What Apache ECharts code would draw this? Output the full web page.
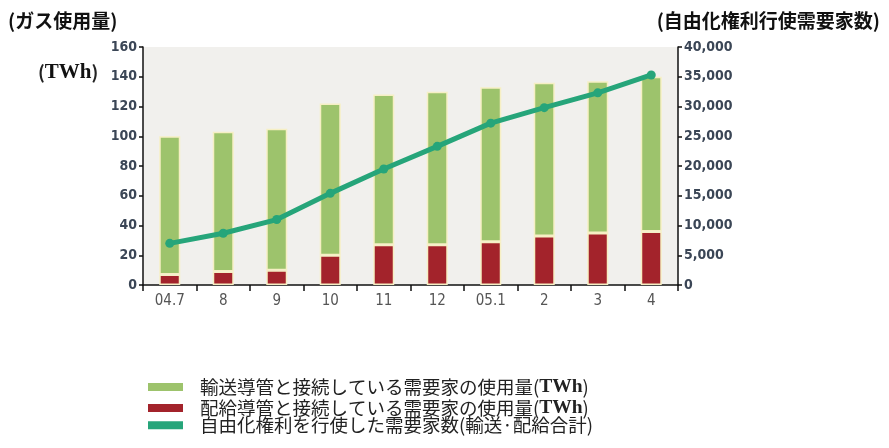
<!DOCTYPE html>
<html><head><meta charset="utf-8">
<script src="https://cdn.jsdelivr.net/npm/echarts@6/dist/echarts.min.js"></script>
<style>html,body{margin:0;padding:0;background:#fff}#c{width:889px;height:448px}</style>
</head><body><div id="c"></div>
<script>
const categories = ['04.7','8','9','10','11','12','05.1','2','3','4'];
const haikyuUsage = [7, 9, 10, 20, 27, 27, 29, 33, 35, 36];
const yusoUsage = [93, 94, 95, 102, 101, 103, 104, 103, 102, 104];
const customers = [7000, 8700, 11000, 15400, 19500, 23300, 27200, 29800, 32300, 35300];
const leftTicks = {min:0, max:160, interval:20};
const rightTicks = {min:0, max:40000, interval:5000};
const names = ['輸送導管と接続している需要家の使用量(TWh)','配給導管と接続している需要家の使用量(TWh)','自由化権利を行使した需要家数(輸送·配給合計)'];

const chart = echarts.init(document.getElementById('c'));
const jp = '"Noto Sans CJK JP","Noto Sans",sans-serif';
const narrow = '"Liberation Sans Narrow","DejaVu Sans Condensed","Liberation Sans",sans-serif';
const legendRich = {
  n:{fontFamily:jp, fontSize:18.5, color:'#222'},
  b:{fontFamily:'"Liberation Serif","DejaVu Serif",serif', fontWeight:'bold', fontSize:19.5, color:'#222'}
};
function legFmt(name){
  const i = name.indexOf('(TWh)');
  if(i>=0) return '{n|'+name.slice(0,i)+'(}{b|TWh}{n|)}';
  return '{n|'+name+'}';
}
function mkLegend(name, top){
  return {data:[name], left:143, top:top, itemWidth:35, itemHeight:8, itemGap:0,
    icon:'rect', itemStyle:{borderWidth:0}, formatter:legFmt,
    textStyle:{rich:legendRich, padding:[0,0,0,12]}, selectedMode:false};
}
chart.setOption({
  animation:false,
  backgroundColor:'#fff',
  title:[
    {text:'(ガス使用量)', left:3, top:6, textStyle:{fontFamily:jp, fontSize:19, fontWeight:'bold', color:'#111'}},
    {text:'{p|(}{b|TWh}{p|)}', left:33, top:57, textStyle:{rich:{
      p:{fontFamily:jp, fontSize:18, color:'#222'},
      b:{fontFamily:'"Liberation Serif","DejaVu Serif",serif', fontSize:21, fontWeight:'bold', color:'#111'}}}},
    {text:'(自由化権利行使需要家数)', right:4, top:6, textStyle:{fontFamily:jp, fontSize:19, fontWeight:'bold', color:'#111'}}
  ],
  legend:[mkLegend(names[0],372), mkLegend(names[1],393), mkLegend(names[2],411)],
  grid:{left:143, right:211, top:47, bottom:163, show:true, backgroundColor:'#f1f0ed', borderWidth:0},
  xAxis:{type:'category', data:categories, boundaryGap:true,
    axisLine:{lineStyle:{color:'#111', width:1.5}},
    axisTick:{show:true, length:6, lineStyle:{color:'#111', width:1.5}},
    axisLabel:{fontFamily:narrow, fontSize:15, color:'#555', margin:9}},
  yAxis:[
    {type:'value', min:leftTicks.min, max:leftTicks.max, interval:leftTicks.interval, position:'left',
      splitLine:{show:false},
      axisLine:{show:true, lineStyle:{color:'#111', width:1.5}},
      axisTick:{show:true, length:4, lineStyle:{color:'#111', width:1.5}},
      axisLabel:{fontFamily:narrow, fontSize:14, fontWeight:'bold', color:'#3b4656', margin:6}},
    {type:'value', min:rightTicks.min, max:rightTicks.max, interval:rightTicks.interval, position:'right',
      splitLine:{show:false},
      axisLine:{show:true, lineStyle:{color:'#111', width:1.5}},
      axisTick:{show:true, length:4, lineStyle:{color:'#111', width:1.5}},
      axisLabel:{fontFamily:narrow, fontSize:14, fontWeight:'bold', color:'#3b4656', margin:6,
        formatter:v=>v.toLocaleString('en-US')}}
  ],
  series:[
    {name:names[1], type:'bar', stack:'u', data:haikyuUsage, barWidth:21, yAxisIndex:0,
      itemStyle:{color:'#a3232b', borderColor:'#f6efc4', borderWidth:1.5}},
    {name:names[0], type:'bar', stack:'u', data:yusoUsage, barWidth:21, yAxisIndex:0,
      itemStyle:{color:'#9dc36c', borderColor:'#f6efc4', borderWidth:1.5}},
    {name:names[2], type:'line', data:customers, yAxisIndex:1, symbol:'circle', symbolSize:9,
      lineStyle:{color:'#26a57a', width:5}, itemStyle:{color:'#26a57a'}, z:5}
  ]
});
</script></body></html>
